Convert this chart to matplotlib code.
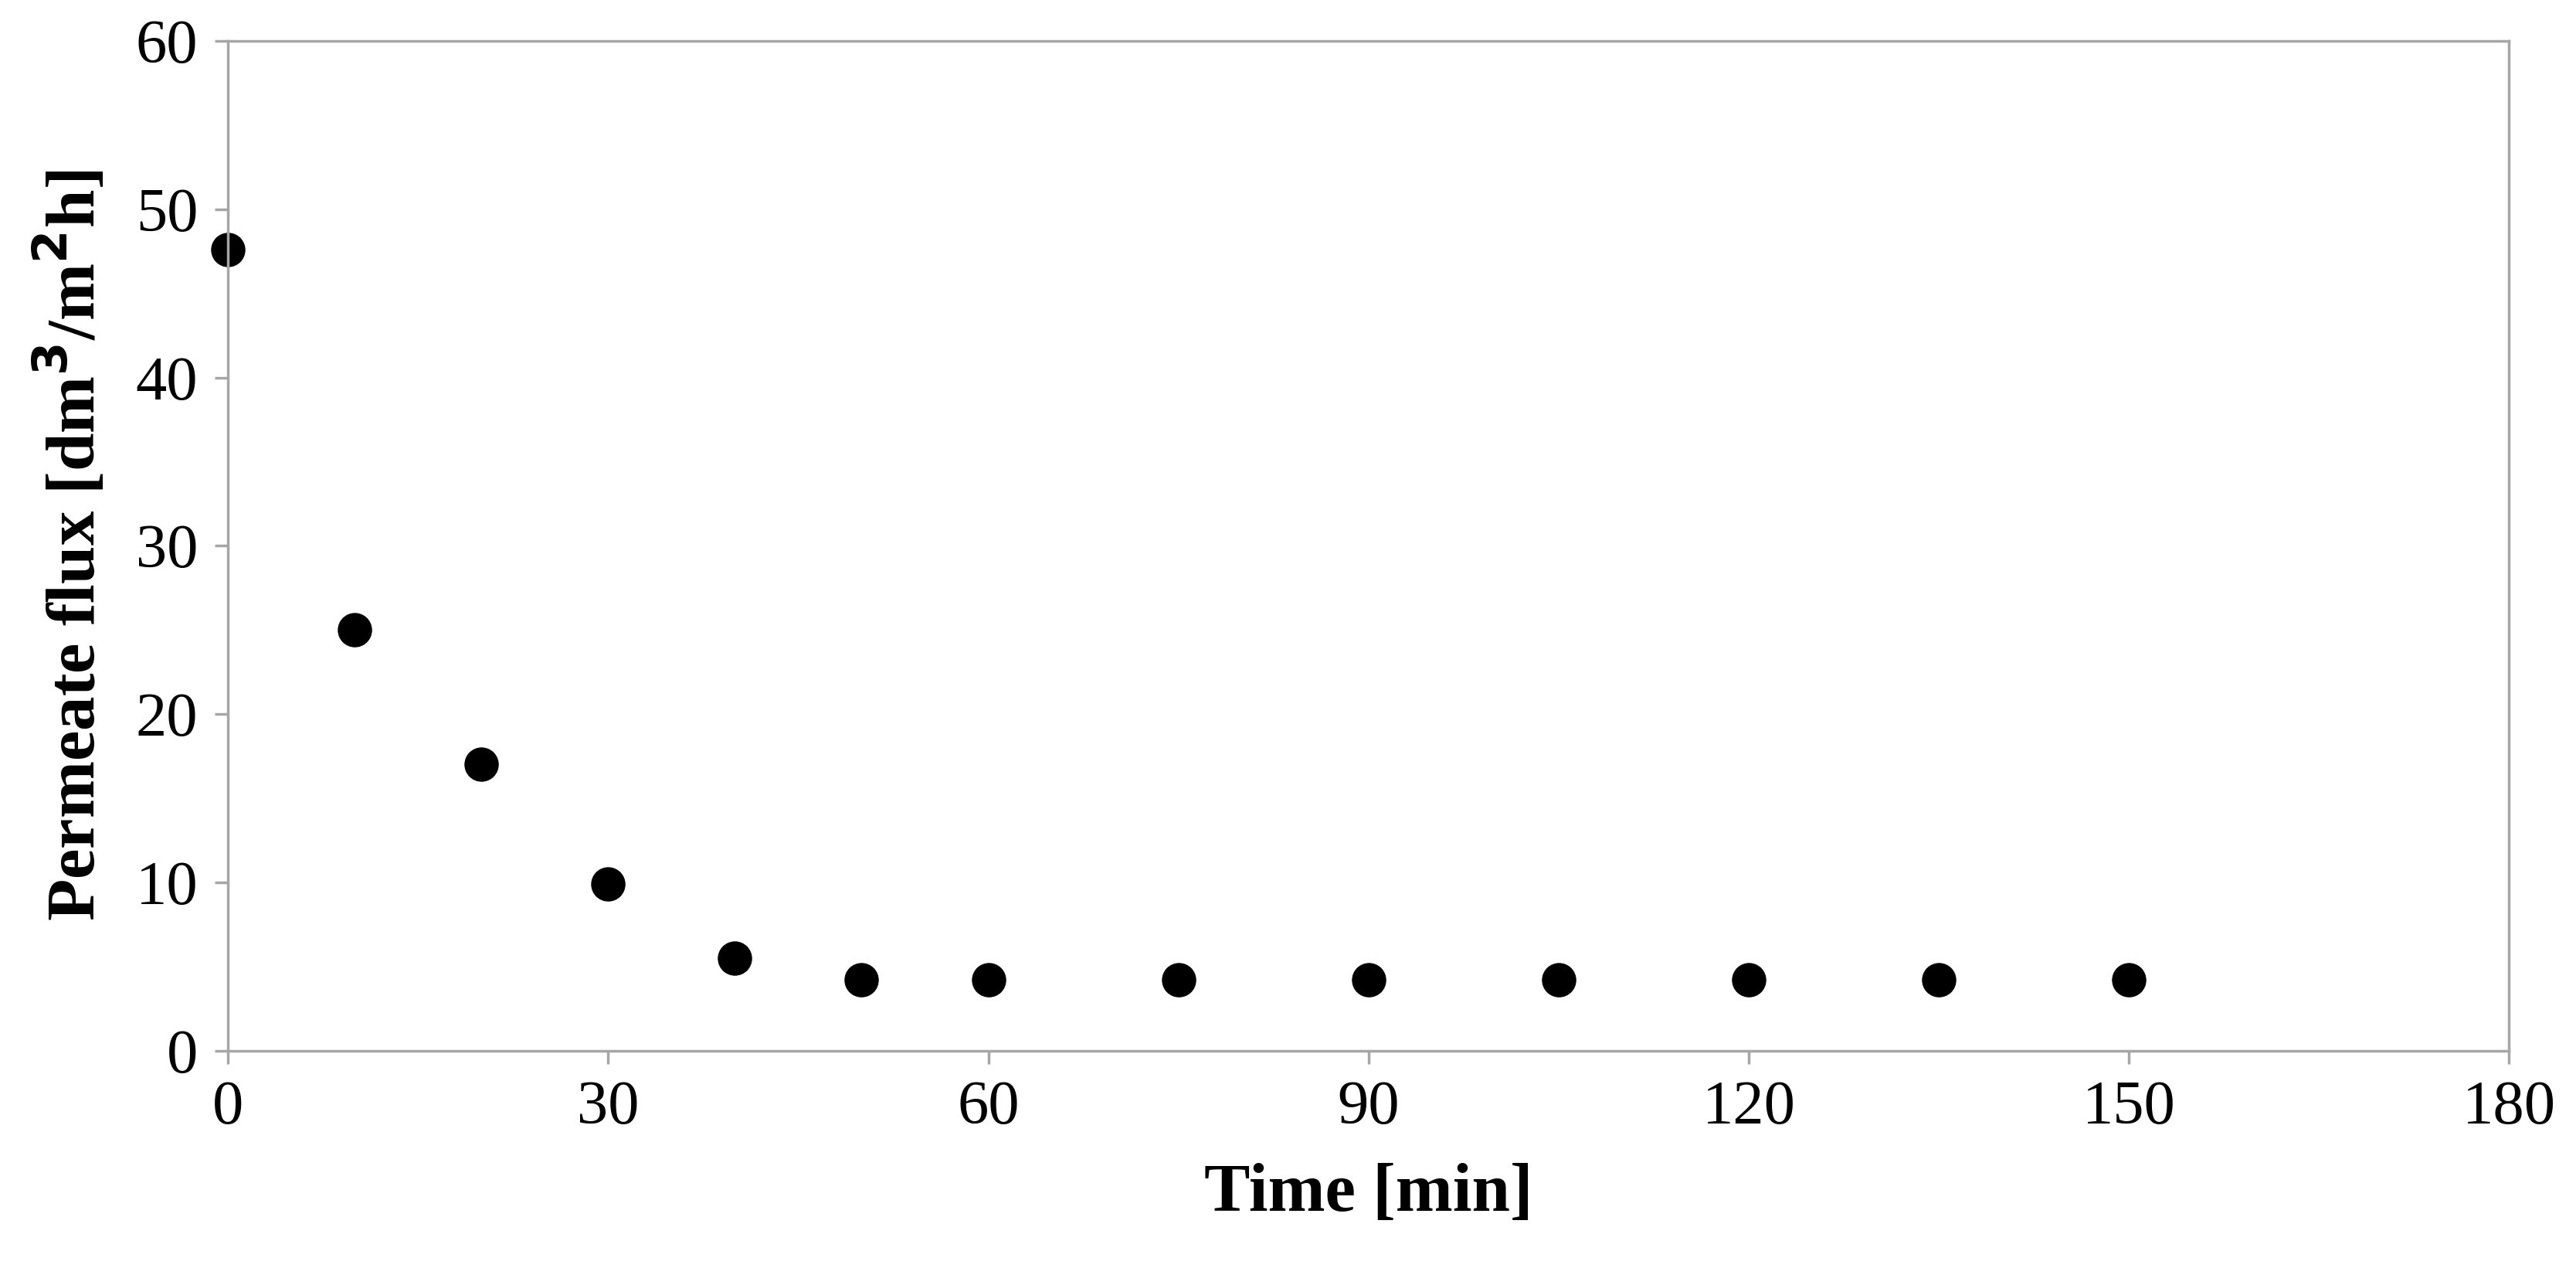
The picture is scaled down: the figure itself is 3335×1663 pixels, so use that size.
import matplotlib
matplotlib.use("Agg")
import matplotlib.pyplot as plt

time_min = [0, 10, 20, 30, 40, 50, 60, 75, 90, 105, 120, 135, 150]
flux = [47.6, 25.0, 17.0, 9.9, 5.5, 4.2, 4.2, 4.2, 4.2, 4.2, 4.2, 4.2, 4.2]
xticks = [0, 30, 60, 90, 120, 150, 180]
yticks = [0, 10, 20, 30, 40, 50, 60]

plt.rcParams['font.family'] = ['Liberation Serif', 'DejaVu Serif']
fig = plt.figure(figsize=(33.35, 16.63), dpi=100)
ax = fig.add_axes([0.0885, 0.1825, 0.8855, 0.7855])
ax.plot(time_min, flux, 'o', color='black', markersize=31, clip_on=False)
ax.set_xlim(0, 180)
ax.set_ylim(0, 60)
ax.set_xticks(xticks)
ax.set_yticks(yticks)
for s in ax.spines.values():
    s.set_color('#a6a6a6')
    s.set_linewidth(2.5)
ax.tick_params(axis='both', labelsize=58, color='#a6a6a6', width=2.5, length=12, direction='out', pad=16)
ax.set_xlabel('Time [min]', fontsize=64, fontweight='bold', labelpad=24)
ax.set_ylabel('Permeate flux [dm$^{\\mathbf{3}}$/m$^{\\mathbf{2}}$h]', fontsize=64, fontweight='bold', labelpad=24)
fig.savefig('out.png', dpi=100)
